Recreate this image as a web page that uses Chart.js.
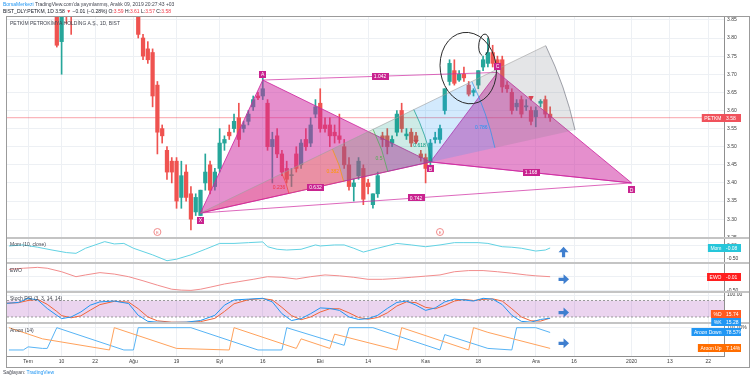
<!DOCTYPE html>
<html>
<head>
<meta charset="utf-8">
<script src="https://cdn.jsdelivr.net/npm/chart.js@4.4.1/dist/chart.umd.min.js"></script>
<style>
  body { margin: 0; background: #fff; }
  #wrap { position: relative; width: 750px; height: 377px; overflow: hidden; font-family: "Liberation Sans", Arial, sans-serif; }
  #chart { position: absolute; left: 0; top: 0; }
  .txt { position: absolute; white-space: nowrap; font-size: 5px; line-height: 6px; color: #434651; }
  .red { color: #f23645; }
  .blue { color: #2196f3; }
</style>
</head>
<body>
<div id="wrap">
  <canvas id="chart" width="750" height="377"></canvas>
  <div class="txt" style="left:3px;top:1px"><span class="blue">BorsaMerkezi</span> TradingView.com'da yayınlanmış, Aralık 09, 2019 20:27:43 +03</div>
  <div class="txt" style="left:3px;top:8px;color:#131722">BIST_DLY:PETKM, 1D 3.58 <span class="red">▼</span> −0.01 (−0.28%) O:<span class="red">3.59</span> H:<span class="red">3.61</span> L:<span class="red">3.57</span> C:<span class="red">3.58</span></div>
  <div class="txt" style="left:10px;top:20px">PETKİM PETROKİMYA HOLDİNG A.Ş., 1D, BIST</div>
  <div class="txt" style="left:10px;top:241px">Mom (10, close)</div>
  <div class="txt" style="left:10px;top:267px">EWO</div>
  <div class="txt" style="left:10px;top:295px">Stoch RSI (3, 3, 14, 14)</div>
  <div class="txt" style="left:10px;top:327px">Aroon (14)</div>
  <div class="txt" style="left:3px;top:369px">Sağlayan: <span class="blue">TradingView</span></div>
</div>
<script>
// bar index of the first candle (0 = 1 Tem 2019)
const firstBar = -4;
const opens  = [3.98,4.00,3.97,3.98,3.95,3.97,3.94,3.96,3.92,3.94,3.90,3.79,3.90,3.92,3.88,3.93,3.96,4.00,3.98,4.01,
  4.02,4.00,3.97,3.99,3.96,3.94,3.92,3.89,3.80,3.77,3.76,3.67,3.55,3.49,3.46,3.46,3.36,3.43,3.37,3.32,
  3.31,3.40,3.45,3.39,3.44,3.51,3.54,3.55,3.58,3.55,3.57,3.61,3.64,3.64,3.62,3.50,3.53,3.48,3.44,3.42,
  3.48,3.45,3.52,3.51,3.59,3.62,3.56,3.56,3.54,3.53,3.50,3.45,3.39,3.42,3.44,3.40,3.34,3.37,3.53,3.53,
  3.51,3.54,3.60,3.53,3.54,3.53,3.48,3.47,3.46,3.52,3.52,3.60,3.68,3.71,3.684,3.70,3.67,3.65,3.67,3.72,
  3.73,3.76,3.74,3.74,3.67,3.65,3.61,3.63,3.61,3.60,3.583,3.62,3.63,3.59];
const highs  = [4.02,4.03,4.00,4.01,3.99,4.00,3.97,3.98,3.96,3.97,3.92,3.91,3.93,3.95,3.95,3.98,4.02,4.04,4.03,4.05,
  4.06,4.03,4.01,4.02,3.99,3.97,3.95,3.91,3.81,3.79,3.77,3.68,3.56,3.50,3.47,3.47,3.46,3.45,3.39,3.37,
  3.38,3.48,3.46,3.44,3.55,3.53,3.56,3.59,3.62,3.57,3.60,3.64,3.65,3.69,3.63,3.54,3.55,3.49,3.46,3.44,
  3.50,3.52,3.55,3.58,3.63,3.66,3.58,3.58,3.56,3.59,3.52,3.47,3.41,3.47,3.45,3.41,3.37,3.43,3.54,3.55,
  3.53,3.60,3.62,3.55,3.55,3.54,3.49,3.48,3.52,3.54,3.56,3.66,3.74,3.74,3.71,3.72,3.68,3.66,3.71,3.75,
  3.80,3.78,3.75,3.75,3.68,3.66,3.63,3.64,3.63,3.61,3.61,3.63,3.64,3.61];
const lows   = [3.95,3.96,3.93,3.94,3.92,3.93,3.90,3.91,3.89,3.88,3.775,3.70,3.84,3.81,3.86,3.90,3.94,3.96,3.95,3.98,
  3.99,3.96,3.94,3.95,3.92,3.90,3.87,3.80,3.74,3.73,3.61,3.48,3.51,3.41,3.40,3.33,3.33,3.35,3.27,3.31,
  3.31,3.38,3.37,3.38,3.43,3.49,3.52,3.54,3.50,3.54,3.56,3.60,3.63,3.63,3.49,3.40,3.47,3.42,3.40,3.39,
  3.43,3.44,3.49,3.50,3.58,3.54,3.54,3.50,3.51,3.51,3.44,3.38,3.35,3.41,3.34,3.37,3.33,3.36,3.50,3.48,
  3.50,3.53,3.54,3.52,3.50,3.51,3.46,3.40,3.45,3.51,3.51,3.59,3.67,3.67,3.68,3.68,3.64,3.64,3.66,3.71,
  3.72,3.72,3.72,3.65,3.65,3.59,3.60,3.58,3.60,3.56,3.555,3.61,3.58,3.57];
const closes = [4.00,3.97,3.98,3.95,3.97,3.94,3.96,3.92,3.94,3.90,3.78,3.88,3.87,3.88,3.93,3.96,4.00,3.98,4.01,4.02,
  4.00,3.97,3.99,3.96,3.94,3.92,3.89,3.81,3.75,3.74,3.64,3.54,3.53,3.43,3.43,3.35,3.42,3.36,3.30,3.36,
  3.38,3.43,3.38,3.43,3.51,3.52,3.53,3.57,3.52,3.56,3.59,3.63,3.635,3.66,3.50,3.52,3.48,3.43,3.41,3.42,
  3.44,3.51,3.50,3.56,3.61,3.55,3.55,3.53,3.53,3.52,3.45,3.39,3.40,3.46,3.355,3.39,3.37,3.42,3.52,3.50,
  3.52,3.59,3.55,3.535,3.51,3.52,3.47,3.44,3.51,3.525,3.55,3.66,3.73,3.675,3.70,3.69,3.645,3.655,3.71,3.74,
  3.76,3.73,3.72,3.665,3.66,3.60,3.62,3.59,3.612,3.57,3.60,3.625,3.59,3.58];
const lastPrice = 3.58;

// time axis labels (bar index -> text)
const tickBars  = [0, 7, 14, 22, 31, 40, 49, 61, 71, 83, 94, 106, 114, 126, 134, 142];
const tickTexts = ['Tem','10','22','Ağu','19','Eyl','16','Eki','14','Kas','18','Ara','16','2020','13','22'];

// XABCD pattern
const patNames  = ['X','A','B','C','D'];
const patBars   = [36, 49, 84, 98, 126];
const patPrices = [3.317, 3.684, 3.458, 3.705, 3.40];
const ratioPairs = [[0,2],[1,3],[2,4],[0,4]];
const ratioTexts = ['0.632','1.042','1.168','0.742'];

// fib wedge: apex, end of first ray, end of second ray
const wedgeBars   = [36, 114.2, 108.1];
const wedgePrices = [3.317, 3.546, 3.779];
const wedgeLevels = [0, 0.236, 0.382, 0.5, 0.618, 0.786, 1];
const wedgeColors = ['#f23645','#ff9800','#4caf50','#089981','#2196f3','#787b86'];

// hand drawn ellipse: center bar, center price, half width in bars, half height in price
const ringBars = [91.9, 95.2];
const ringPrices = [3.717, 3.781];
const ringRx = [5.85, 1.1];
const ringRy = [0.099, 0.03];

const eventBars = [27, 86];
const downMarkBars = [81, 105];
const downMarkPrices = [3.515, 3.635];

// indicators
const momBars = [-4,-1,2,5,8,10,12,14,16,18,20,22,24,26,29,31,34,37,40,43,46,49,50,52,54,57,60,61,64,66,68,70,73,77,80,83,86,89,91,94,96,99,101,103,106,108,109];
const momVals = [0.00,0.04,-0.05,-0.16,-0.26,-0.29,-0.09,0.04,0.17,0.08,0.10,-0.09,-0.22,-0.35,-0.58,-0.52,-0.35,-0.13,0.10,0.10,0.13,0.16,-0.03,-0.13,-0.16,-0.13,0.04,0.00,0.04,0.04,-0.09,-0.24,-0.09,0.10,0.04,-0.03,0.04,0.13,0.13,0.13,0.10,-0.03,-0.05,-0.09,-0.20,-0.16,-0.08];

const ewoBars = [-4,-1,2,4,7,10,12,15,18,21,24,27,30,32,34,36,38,41,44,47,50,53,56,59,62,65,68,71,74,77,80,83,86,89,92,95,98,101,104,106,109];
const ewoVals = [0.24,0.28,0.31,0.28,0.16,-0.01,0.05,0.13,0.08,-0.01,-0.15,-0.30,-0.44,-0.47,-0.48,-0.44,-0.37,-0.26,-0.18,-0.10,-0.01,-0.03,-0.09,-0.01,0.05,0.02,-0.03,-0.10,-0.10,-0.07,-0.03,0.01,0.05,0.16,0.20,0.20,0.16,0.11,0.05,0.02,-0.01];

const stochKBars = [-5,-2,0,2,4,6,7,9,11,13,15,18,21,23,25,27,30,33,36,39,41,43,46,49,51,53,55,57,59,61,63,65,67,69,71,73,75,77,79,81,83,85,87,89,91,93,95,97,99,101,103,105,107,109];
const stochKVals = [69,73,88,82,51,26,14,20,38,63,75,78,69,26,4,1,0,1,7,26,63,82,85,88,75,32,7,14,32,53,51,44,20,11,14,26,51,73,78,63,44,53,75,85,82,78,88,85,65,26,4,1,11,15.28];
const stochDBars = [-5,-2,0,2,4,6,7,9,11,13,15,18,21,23,25,27,30,33,36,39,41,43,46,49,51,53,55,57,59,61,63,65,67,69,71,73,75,77,79,81,83,85,87,89,91,93,95,97,99,101,103,105,107,109];
const stochDVals = [70,72,80,84,66,40,25,17,24,45,65,77,74,50,20,6,1,1,3,15,40,68,83,87,82,55,25,10,20,38,50,50,35,18,12,18,35,60,75,72,55,50,62,78,84,80,84,86,78,50,20,6,5,15.74];

const aroonUpBars = [-4,3,17,18,31,42,43,56,57,63,64,77,78,92,93,96,109];
const aroonUpVals = [100,50,0,100,7,0,100,7,50,7,71,0,100,0,100,79,7.14];
const aroonDnBars = [-4,-1,0,3,4,6,20,22,23,34,48,53,54,66,67,72,86,87,96,101,102,106,109];
const aroonDnVals = [0,0,14,7,7,100,0,0,100,100,0,0,100,21,100,100,0,69,7,0,100,100,78.57];

const xMin = -4.4, xMax = 145.3;

const upColor = '#26a69a', downColor = '#ef5350';
const candleColor = closes.map((c, k) => c >= opens[k] ? upColor : downColor);
const bodies = closes.map((c, k) => ({ x: firstBar + k, y: [opens[k], c] }));
const wicks  = closes.map((c, k) => ({ x: firstBar + k, y: [lows[k], highs[k]] }));
const pts = (bars, vals) => bars.map((b, k) => ({ x: b, y: vals[k] }));
const patPt = k => ({ x: patBars[k], y: patPrices[k] });

const pink = 'rgba(206,40,160,0.52)';
const pinkLine = 'rgba(206,40,160,0.85)';

const datasets = [
  // pattern triangles (drawn on top)
  { type: 'line', data: [patPt(0), patPt(1), patPt(2), patPt(0)], fill: 'shape', backgroundColor: pink,
    borderColor: pinkLine, borderWidth: 1, pointRadius: 0, order: 1 },
  { type: 'line', data: [patPt(2), patPt(3), patPt(4), patPt(2)], fill: 'shape', backgroundColor: pink,
    borderColor: pinkLine, borderWidth: 1, pointRadius: 0, order: 1 },
  ...ratioPairs.map(p => ({ type: 'line', data: [patPt(p[0]), patPt(p[1])], borderColor: 'rgba(206,40,160,0.7)',
    borderWidth: 1, pointRadius: 0, fill: false, order: 1 })),
  { type: 'line', data: pts(downMarkBars, downMarkPrices), showLine: false, pointStyle: 'triangle', rotation: 180,
    pointRadius: 2.5, backgroundColor: '#f23645', borderColor: '#f23645', order: 2 },
  // last price line
  { type: 'line', data: [{ x: xMin, y: lastPrice }, { x: xMax, y: lastPrice }], borderColor: 'rgba(242,54,69,0.45)',
    borderWidth: 1, pointRadius: 0, order: 6 },
  // candles
  { type: 'bar', data: wicks, backgroundColor: candleColor, barThickness: 1, grouped: false, order: 5 },
  { type: 'bar', data: bodies, backgroundColor: candleColor, barThickness: 3.6, grouped: false, minBarLength: 1, order: 4 },
  // indicators
  { type: 'line', yAxisID: 'mom', data: pts(momBars, momVals), borderColor: '#62d2e3', borderWidth: 1, pointRadius: 0 },
  { type: 'line', yAxisID: 'ewo', data: pts(ewoBars, ewoVals), borderColor: '#f28d8d', borderWidth: 1, pointRadius: 0 },
  { type: 'line', yAxisID: 'stoch', data: [{ x: xMin, y: 80 }, { x: xMax, y: 80 }], borderColor: '#9a9a9a',
    borderWidth: 1, borderDash: [2, 2], pointRadius: 0, fill: false, order: 8 },
  { type: 'line', yAxisID: 'stoch', data: [{ x: xMin, y: 20 }, { x: xMax, y: 20 }], borderColor: '#9a9a9a',
    borderWidth: 1, borderDash: [2, 2], pointRadius: 0, fill: '-1', backgroundColor: 'rgba(156,39,176,0.2)', order: 8 },
  { type: 'line', yAxisID: 'stoch', data: pts(stochKBars, stochKVals), borderColor: '#2196f3', borderWidth: 1, pointRadius: 0 },
  { type: 'line', yAxisID: 'stoch', data: pts(stochDBars, stochDVals), borderColor: '#f0653a', borderWidth: 1, pointRadius: 0 },
  { type: 'line', yAxisID: 'aroon', data: pts(aroonUpBars, aroonUpVals), borderColor: '#ffa25c', borderWidth: 1, pointRadius: 0 },
  { type: 'line', yAxisID: 'aroon', data: pts(aroonDnBars, aroonDnVals), borderColor: '#58b4f5', borderWidth: 1, pointRadius: 0 }
];

const gridColor = '#edf0f4';
const paneScale = (min, max, weight, tickVals, fmt) => ({
  type: 'linear', position: 'right', stack: 'panes', stackWeight: weight, min: min, max: max,
  grid: { color: gridColor, drawTicks: false },
  border: { color: '#8f8f8f' },
  ticks: { font: { size: 5, family: 'Liberation Sans' }, color: '#3a3a3a', padding: 3, callback: v => fmt(v) },
  afterBuildTicks: s => { s.ticks = tickVals.map(v => ({ value: v })); },
  afterFit: s => { s.width = 26; }
});

const mainTicks = [];
for (let v = 325; v <= 385; v += 5) mainTicks.push(v / 100);

const px = (c, bar, price, axis) => [c.scales.x.getPixelForValue(bar), c.scales[axis || 'y'].getPixelForValue(price)];

function box(ctx, cx, cy, text, bg, w, h) {
  ctx.font = '5px "Liberation Sans"';
  const tw = w || ctx.measureText(text).width + 4;
  const th = h || 7;
  ctx.fillStyle = bg;
  ctx.fillRect(Math.round(cx - tw / 2), Math.round(cy - th / 2), Math.round(tw), th);
  ctx.fillStyle = '#fff';
  ctx.textAlign = 'center';
  ctx.textBaseline = 'middle';
  ctx.fillText(text, cx, cy + 0.5);
}

function axisBadge(ctx, area, y, name, value, bg) {
  ctx.font = '5px "Liberation Sans"';
  const vw = 17;
  const nw = name ? ctx.measureText(name).width + 5 : 0;
  const x0 = area.right - nw;
  ctx.fillStyle = bg;
  ctx.fillRect(x0, Math.round(y) - 4, nw + vw, 8);
  ctx.fillStyle = '#fff';
  ctx.textBaseline = 'middle';
  ctx.textAlign = 'left';
  if (name) ctx.fillText(name, x0 + 2.5, y + 0.5);
  ctx.fillText(value, area.right + 2, y + 0.5);
}

function arrow(ctx, x, y, up) {
  ctx.save();
  ctx.fillStyle = '#3f7fcf';
  ctx.translate(x, y);
  if (up) ctx.rotate(-Math.PI / 2);
  ctx.beginPath();
  ctx.moveTo(-5, -1.6); ctx.lineTo(0, -1.6); ctx.lineTo(0, -5); ctx.lineTo(5.5, 0);
  ctx.lineTo(0, 5); ctx.lineTo(0, 1.6); ctx.lineTo(-5, 1.6);
  ctx.closePath();
  ctx.fill();
  ctx.restore();
}

const decor = {
  id: 'decor',
  beforeDraw(c) {
    const ctx = c.ctx;
    ctx.save();
    ctx.fillStyle = '#fff';
    ctx.fillRect(0, 0, c.width, c.height);
    ctx.restore();
  },
  afterDatasetsDraw(c) {
    const ctx = c.ctx, a = c.chartArea, sy = c.scales.y;
    ctx.save();
    ctx.beginPath();
    ctx.rect(a.left, sy.top, a.right - a.left, sy.bottom - sy.top);
    ctx.clip();
    // fib wedge
    const [cx, cy] = px(c, wedgeBars[0], wedgePrices[0]);
    const [p1x, p1y] = px(c, wedgeBars[1], wedgePrices[1]);
    const [p2x, p2y] = px(c, wedgeBars[2], wedgePrices[2]);
    const R = Math.hypot(p1x - cx, p1y - cy);
    const a1 = Math.atan2(p1y - cy, p1x - cx), a2 = Math.atan2(p2y - cy, p2x - cx);
    for (let k = 1; k < wedgeLevels.length; k++) {
      const rIn = R * wedgeLevels[k - 1], rOut = R * wedgeLevels[k];
      ctx.beginPath();
      ctx.arc(cx, cy, rOut, a1, a2, true);
      ctx.arc(cx, cy, rIn, a2, a1, false);
      ctx.closePath();
      ctx.globalAlpha = 0.2;
      ctx.fillStyle = wedgeColors[k - 1];
      ctx.fill();
      ctx.globalAlpha = 0.7;
      ctx.strokeStyle = wedgeColors[k - 1];
      ctx.lineWidth = 1;
      ctx.beginPath();
      ctx.arc(cx, cy, rOut, a1, a2, true);
      ctx.stroke();
      if (k < wedgeLevels.length - 1) {
        const am = a1 + (a2 - a1) * 0.3;
        ctx.globalAlpha = 1;
        ctx.font = '5px "Liberation Sans"';
        ctx.fillStyle = wedgeColors[k - 1];
        ctx.textAlign = 'right';
        ctx.textBaseline = 'middle';
        ctx.fillText(String(wedgeLevels[k]), cx + rOut * Math.cos(am) - 2, cy + rOut * Math.sin(am));
      }
    }
    ctx.globalAlpha = 0.6;
    ctx.strokeStyle = '#9e9e9e';
    ctx.beginPath();
    ctx.moveTo(cx, cy); ctx.lineTo(cx + R * Math.cos(a2), cy + R * Math.sin(a2));
    ctx.stroke();
    ctx.globalAlpha = 1;

    // hand drawn ring
    ctx.strokeStyle = '#2b2b2b';
    ctx.lineWidth = 1;
    for (let k = 0; k < ringBars.length; k++) {
      const [ex, ey] = px(c, ringBars[k], ringPrices[k]);
      const rx = Math.abs(c.scales.x.getPixelForValue(ringBars[k] + ringRx[k]) - ex);
      const ry = Math.abs(sy.getPixelForValue(ringPrices[k] + ringRy[k]) - ey);
      ctx.beginPath();
      if (k === 0) ctx.ellipse(ex, ey, rx, ry, -0.15, 0, Math.PI * 2);
      else ctx.ellipse(ex, ey, rx, ry, 0.1, Math.PI * 0.55, Math.PI * 2.35);
      ctx.stroke();
    }

    // pattern letters and ratios
    patNames.forEach((n, k) => {
      const [x, y] = px(c, patBars[k], patPrices[k]);
      const above = k === 1 || k === 3;
      box(ctx, x, y + (above ? -6 : 7), n, '#c9238f', 7, 7);
    });
    ratioPairs.forEach((p, k) => {
      const [x1, y1] = px(c, patBars[p[0]], patPrices[p[0]]);
      const [x2, y2] = px(c, patBars[p[1]], patPrices[p[1]]);
      box(ctx, (x1 + x2) / 2, (y1 + y2) / 2, ratioTexts[k], '#c9238f');
    });

    // earnings markers
    eventBars.forEach(b => {
      const x = c.scales.x.getPixelForValue(b), y = sy.bottom - 6;
      ctx.beginPath();
      ctx.arc(x, y, 3.5, 0, Math.PI * 2);
      ctx.fillStyle = '#fff';
      ctx.fill();
      ctx.strokeStyle = '#f28b8b';
      ctx.stroke();
      ctx.fillStyle = '#e57373';
      ctx.font = '4px "Liberation Sans"';
      ctx.textAlign = 'center';
      ctx.textBaseline = 'middle';
      ctx.fillText('E', x, y + 0.5);
    });
    ctx.restore();

    // blue arrows after the last bar
    const ax = c.scales.x.getPixelForValue(111.8);
    arrow(ctx, ax, c.scales.mom.getPixelForValue(-0.25), true);
    arrow(ctx, ax, c.scales.ewo.getPixelForValue(-0.1), false);
    arrow(ctx, ax, c.scales.stoch.getPixelForValue(36), false);
    arrow(ctx, ax, c.scales.aroon.getPixelForValue(30), false);
  },
  afterDraw(c) {
    const ctx = c.ctx, a = c.chartArea;
    ctx.save();
    // pane separators and frame
    ctx.strokeStyle = '#c4c4c4';
    ctx.lineWidth = 2;
    ['y', 'mom', 'ewo', 'stoch'].forEach(id => {
      const yb = Math.round(c.scales[id].bottom);
      ctx.beginPath(); ctx.moveTo(a.left, yb); ctx.lineTo(c.width, yb); ctx.stroke();
    });
    ctx.strokeStyle = '#9b9b9b';
    ctx.lineWidth = 1;
    ctx.strokeRect(a.left - 0.5, a.top - 0.5, c.width - a.left, c.scales.x.bottom - a.top + 1);
    // axis badges
    axisBadge(ctx, a, c.scales.y.getPixelForValue(lastPrice), 'PETKM', lastPrice.toFixed(2), '#f0525c');
    axisBadge(ctx, a, c.scales.mom.getPixelForValue(momVals[momVals.length - 1]), 'Mom', '-0.08', '#26c6da');
    axisBadge(ctx, a, c.scales.ewo.getPixelForValue(ewoVals[ewoVals.length - 1]), 'EWO', '-0.01', '#ff1f1f');
    axisBadge(ctx, a, c.scales.stoch.getPixelForValue(stochDVals[stochDVals.length - 1]) - 4, '%D', '15.74', '#ff5a1f');
    axisBadge(ctx, a, c.scales.stoch.getPixelForValue(stochKVals[stochKVals.length - 1]) + 4, '%K', '15.28', '#2196f3');
    axisBadge(ctx, a, c.scales.aroon.getPixelForValue(aroonDnVals[aroonDnVals.length - 1]), 'Aroon Down', '78.57%', '#2196f3');
    axisBadge(ctx, a, c.scales.aroon.getPixelForValue(aroonUpVals[aroonUpVals.length - 1]), 'Aroon Up', '7.14%', '#ff6d00');
    ctx.restore();
  }
};

new Chart(document.getElementById('chart'), {
  data: { datasets: datasets },
  options: {
    responsive: false,
    animation: false,
    parsing: true,
    layout: { padding: { left: 7, top: 17, right: 0, bottom: 10 } },
    plugins: { legend: { display: false }, tooltip: { enabled: false } },
    elements: { line: { tension: 0 } },
    scales: {
      x: {
        type: 'linear', position: 'bottom', min: xMin, max: xMax, offset: false,
        grid: { color: gridColor, drawTicks: false, offset: false },
        border: { color: '#8f8f8f' },
        ticks: { font: { size: 5, family: 'Liberation Sans' }, color: '#3a3a3a', padding: 3, maxRotation: 0, autoSkip: false,
          callback: v => tickTexts[tickBars.indexOf(v)] },
        afterBuildTicks: s => { s.ticks = tickBars.map(v => ({ value: v })); },
        afterFit: s => { s.height = 11; }
      },
      y: paneScale(3.248, 3.858, 221, mainTicks, v => v.toFixed(2)),
      mom: paneScale(-0.67, 0.313, 25, [-0.5, 0], v => v.toFixed(2)),
      ewo: paneScale(-0.535, 0.46, 29, [-0.5, 0], v => v.toFixed(2)),
      stoch: paneScale(-2, 111, 31, [0, 100], v => v.toFixed(2)),
      aroon: paneScale(-27, 121, 33, [100], v => v.toFixed(2) + '%')
    }
  },
  plugins: [decor]
});
</script>
</body>
</html>
